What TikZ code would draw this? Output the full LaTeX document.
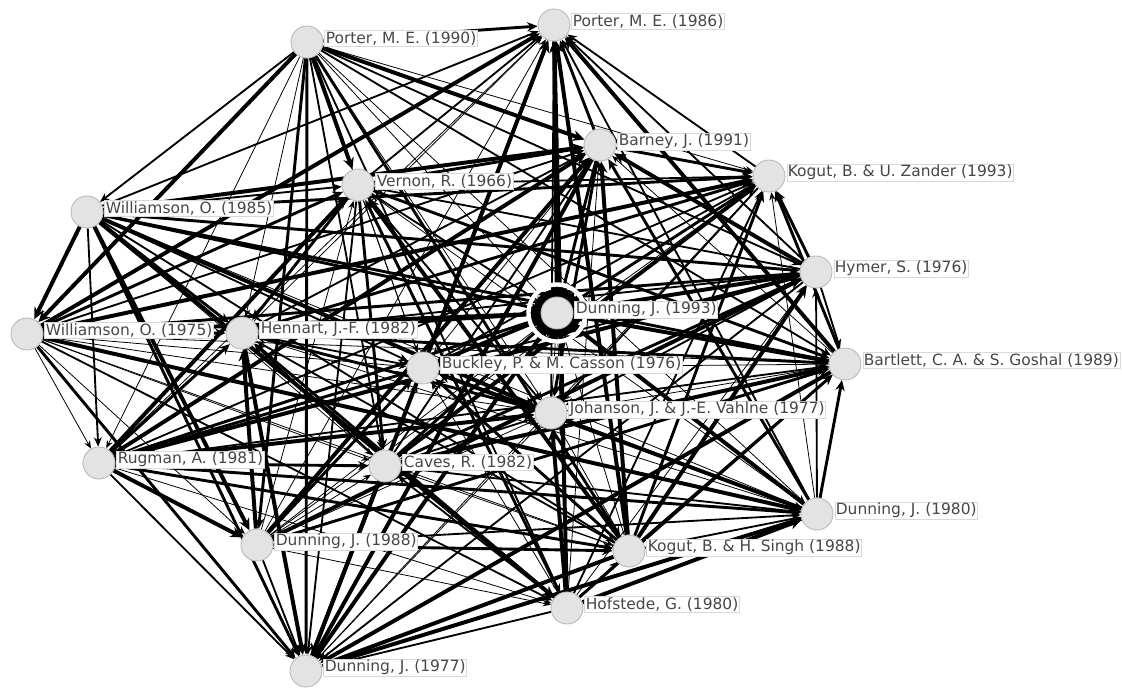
\documentclass[tikz,border=0pt]{standalone}
\usepackage{fontspec}
\setmainfont{DejaVu Sans}
\usetikzlibrary{arrows.meta,backgrounds}

\tikzset{
  vtx/.style={circle,minimum size=0.64cm,inner sep=0pt,
    fill=gray!22,draw=gray!55,line width=0.5pt},
  lbl/.style={anchor=west,fill=white,draw=gray!30,line width=0.3pt,
    inner sep=0.6pt,text=black!72,font=\fontsize{8.8}{10}\selectfont},
  tie/.style={-{Stealth[length=4pt 1.2,width=3pt 1.4]},black}
}

\begin{document}
\begin{tikzpicture}[x=0.02cm,y=-0.02cm]
    \useasboundingbox (0,0) rectangle (1122,688);
    % actors
    \foreach \n/\x/\y/\t in {
        p90/307/42/{Porter, M. E. (1990)},
        p86/554/25/{Porter, M. E. (1986)},
        barney/600/145/{Barney, J. (1991)},
        kz93/769/176/{Kogut, B. \& U. Zander (1993)},
        vernon/358/185/{Vernon, R. (1966)},
        w85/87/212/{Williamson, O. (1985)},
        hymer/816/272/{Hymer, S. (1976)},
        d93/557/313/{Dunning, J. (1993)},
        w75/27/334/{Williamson, O. (1975)},
        hennart/242/333/{Hennart, J.-F. (1982)},
        bartlett/845/364/{Bartlett, C. A. \& S. Goshal (1989)},
        buckley/423/368/{Buckley, P. \& M. Casson (1976)},
        johanson/551/413/{Johanson, J. \& J.-E. Vahlne (1977)},
        rugman/99/463/{Rugman, A. (1981)},
        caves/385/466/{Caves, R. (1982)},
        d80/817/514/{Dunning, J. (1980)},
        d88/257/545/{Dunning, J. (1988)},
        ks88/629/551/{Kogut, B. \& H. Singh (1988)},
        hofstede/567/608/{Hofstede, G. (1980)},
        d77/306/671/{Dunning, J. (1977)}} {
        \node[vtx] (\n) at (\x,\y) {};
        \node[lbl] (\n-l) at ([xshift=0.6pt,yshift=2pt]\n.east) {\t};
    }
    % ties, pointing to the earlier one in the list
    \begin{pgfonlayer}{background}
    \pgfmathsetseed{11}
    \foreach \a [count=\i] in {d93,p86,d77,buckley,johanson,kz93,barney,
        bartlett,hennart,caves,vernon,hymer,d80,ks88,hofstede,d88,rugman,
        w75,w85,p90} {
        \foreach \b [count=\j] in {d93,p86,d77,buckley,johanson,kz93,barney,
            bartlett,hennart,caves,vernon,hymer,d80,ks88,hofstede,d88,rugman,
            w75,w85,p90} {
            \ifnum\j>\i
                \pgfmathrandominteger{\w}{0}{3}
                \draw[tie,line width={0.45pt+0.6pt*\w}] (\b) -- (\a);
            \fi
        }
    }
    \fill[black] (d93) circle[radius=0.48cm];
    \draw[white,line width=2.5pt] (d93) circle[radius=0.57cm];
    \end{pgfonlayer}
\end{tikzpicture}
\end{document}
